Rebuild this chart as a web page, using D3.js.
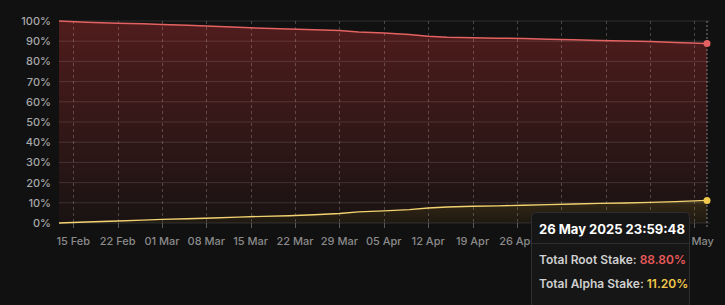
<!DOCTYPE html>
<html><head><meta charset="utf-8">
<script src="https://cdn.jsdelivr.net/npm/d3@7"></script>
<style>
html,body{margin:0;padding:0;background:#111111;}
svg{display:block;font-family:Inter,"Open Sans",sans-serif;}
</style></head>
<body><svg id="c" width="725" height="305"></svg>
<script>
const dates = ["2025-02-12 18:00","2025-02-17 00:00","2025-02-22 00:00","2025-02-26 00:00","2025-03-01 00:00","2025-03-05 00:00","2025-03-09 00:00","2025-03-13 00:00","2025-03-17 00:00","2025-03-21 00:00","2025-03-25 00:00","2025-03-29 00:00","2025-04-01 00:00","2025-04-05 00:00","2025-04-09 00:00","2025-04-12 00:00","2025-04-15 00:00","2025-04-19 00:00","2025-04-23 00:00","2025-04-27 00:00","2025-05-01 00:00","2025-05-05 00:00","2025-05-09 00:00","2025-05-13 00:00","2025-05-17 00:00","2025-05-21 00:00","2025-05-26 00:00"];
const rootStake  = [100.0,99.4,98.9,98.6,98.3,97.9,97.4,96.9,96.4,96.1,95.7,95.3,94.5,94.0,93.3,92.5,92.0,91.7,91.5,91.3,91.0,90.7,90.4,90.1,89.8,89.3,88.8];
const alphaStake = [0.0,0.5,1.0,1.4,1.8,2.1,2.5,2.9,3.3,3.6,4.1,4.7,5.5,6.0,6.6,7.4,7.9,8.3,8.5,8.8,9.1,9.4,9.7,9.9,10.2,10.6,11.2];
const yTicks = [0,10,20,30,40,50,60,70,80,90,100];
const tooltipTitle = "26 May 2025 23:59:48";
const tooltipRows = [["Total Root Stake: ","88.80%"],["Total Alpha Stake: ","11.20%"]];

const parse = d3.timeParse("%Y-%m-%d %H:%M");
const data = dates.map((d,i)=>({date:parse(d), root:rootStake[i], alpha:alphaStake[i]}));

const svg = d3.select("#c");
const L=59, R=707, RG=710, T=21, B=223;
const x = d3.scaleTime().domain(d3.extent(data,d=>d.date)).range([L,R]);
const y = d3.scaleLinear().domain([0,100]).range([B,T]);
const tip = {x:531.5, y:212.5, w:158, h:100};

const defs = svg.append("defs");
const gr = defs.append("linearGradient").attr("id","gr").attr("x1",0).attr("y1",0).attr("x2",0).attr("y2",1);
gr.append("stop").attr("offset","0%").attr("stop-color","#c03030").attr("stop-opacity",0.36);
gr.append("stop").attr("offset","100%").attr("stop-color","#c03030").attr("stop-opacity",0.05);
const gy = defs.append("linearGradient").attr("id","gy").attr("x1",0).attr("y1",0).attr("x2",0).attr("y2",1);
gy.append("stop").attr("offset","0%").attr("stop-color","#b08a20").attr("stop-opacity",0.2);
gy.append("stop").attr("offset","100%").attr("stop-color","#b08a20").attr("stop-opacity",0.06);

// areas
svg.append("path").datum(data).attr("fill","url(#gr)")
  .attr("d",d3.area().x(d=>x(d.date)).y0(B).y1(d=>y(d.root)));
svg.append("path").datum(data).attr("fill","#111111").attr("fill-opacity",0.55)
  .attr("d",d3.area().x(d=>x(d.date)).y0(B).y1(d=>y(d.alpha)));
svg.append("path").datum(data).attr("fill","url(#gy)")
  .attr("d",d3.area().x(d=>x(d.date)).y0(B).y1(d=>y(d.alpha)));

// horizontal grid
svg.append("g").selectAll("line").data(yTicks).join("line")
  .attr("x1",L).attr("x2",RG).attr("y1",d=>y(d)).attr("y2",d=>y(d))
  .attr("stroke","#ffffff").attr("stroke-opacity",0.13).attr("stroke-width",1);

// x ticks
const xt = d3.timeSaturday.every(1).range(new Date(2025,1,15), new Date(2025,4,25));
svg.append("g").selectAll("line").data(xt).join("line")
  .attr("x1",d=>Math.round(x(d))+0.5).attr("x2",d=>Math.round(x(d))+0.5)
  .attr("y1",T).attr("y2",B)
  .attr("stroke","#ffffff").attr("stroke-opacity",0.22).attr("stroke-dasharray","3,3");
svg.append("g").selectAll("line").data(xt).join("line")
  .attr("x1",d=>Math.round(x(d))+0.5).attr("x2",d=>Math.round(x(d))+0.5)
  .attr("y1",B).attr("y2",B+5)
  .attr("stroke","#ffffff").attr("stroke-opacity",0.3);
const fmt = d3.timeFormat("%d %b");
// labels fully covered by the tooltip are not drawn (they are hidden in the reference)
const visibleTicks = xt.filter(d=>{const cx=x(d); return !(cx-16>tip.x && cx+16<tip.x+tip.w);});
svg.append("g").selectAll("text").data(visibleTicks).join("text")
  .attr("x",d=>x(d)).attr("y",245).attr("text-anchor","middle")
  .attr("fill","#8a8a8a").attr("font-size",11).attr("font-weight",500)
  .text(d=>fmt(d));

// y labels
svg.append("g").selectAll("text").data(yTicks).join("text")
  .attr("x",51).attr("y",d=>y(d)+4).attr("text-anchor","end")
  .attr("fill","#a8a8a8").attr("font-size",11).attr("font-weight",500)
  .text(d=>d+"%");

// lines
svg.append("path").datum(data).attr("fill","none").attr("stroke","#e46262").attr("stroke-width",1.5)
  .attr("d",d3.line().x(d=>x(d.date)).y(d=>y(d.root)));
svg.append("path").datum(data).attr("fill","none").attr("stroke","#f3d370").attr("stroke-width",1.4)
  .attr("d",d3.line().x(d=>x(d.date)).y(d=>y(d.alpha)));

// crosshair
const last = data[data.length-1];
svg.append("line").attr("x1",x(last.date)).attr("x2",x(last.date)).attr("y1",T).attr("y2",B+5)
  .attr("stroke","#ffffff").attr("stroke-opacity",0.45).attr("stroke-dasharray","2,2");
svg.append("circle").attr("cx",x(last.date)).attr("cy",y(last.root)).attr("r",3.5).attr("fill","#e46262");
svg.append("circle").attr("cx",x(last.date)).attr("cy",y(last.alpha)).attr("r",3.5).attr("fill","#f2c94c");

// tooltip
const tg = svg.append("g");
tg.append("rect").attr("x",tip.x).attr("y",tip.y).attr("width",tip.w).attr("height",tip.h).attr("rx",4)
  .attr("fill","#161616").attr("stroke","#2e2e2e");
tg.append("line").attr("x1",tip.x).attr("x2",tip.x+tip.w).attr("y1",243.5).attr("y2",243.5).attr("stroke","#2e2e2e");
tg.append("text").attr("x",539).attr("y",234).attr("fill","#ffffff").attr("font-size",13).attr("font-weight",700).text(tooltipTitle);
const colors=["#e65a5a","#f2c94c"];
tooltipRows.forEach((r,i)=>{
  const t = tg.append("text").attr("x",539).attr("y",264+i*24).attr("font-size",12).attr("font-weight",600);
  t.append("tspan").attr("fill","#cfcfcf").text(r[0]);
  t.append("tspan").attr("fill",colors[i]).text(r[1]);
});
</script></body></html>
